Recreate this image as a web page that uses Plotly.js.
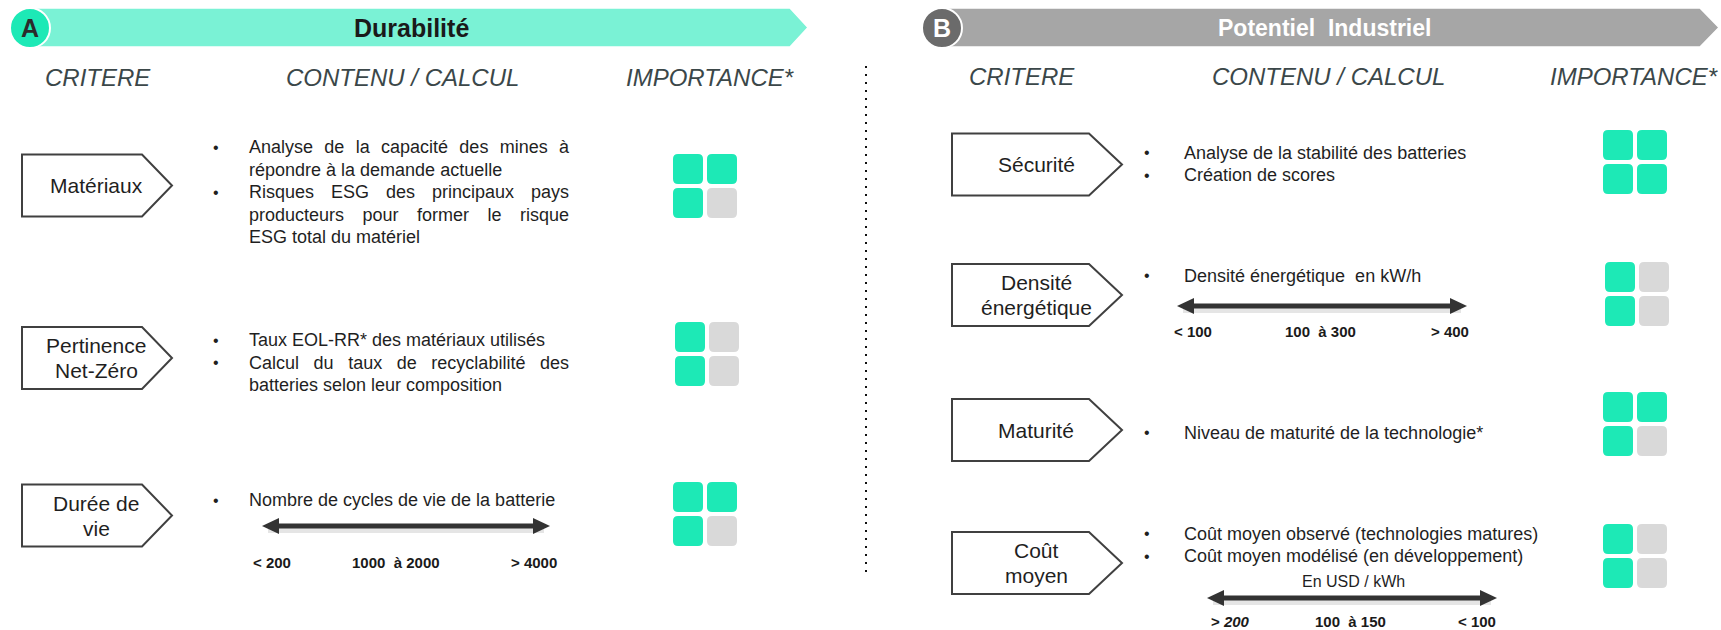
<!DOCTYPE html>
<html><head><meta charset="utf-8">
<script src="https://cdn.plot.ly/plotly-3.0.1.min.js"></script>
<style>html,body{margin:0;padding:0;background:#fff;}#chart{width:1721px;height:630px;}</style>
</head><body><div id="chart"></div>
<script>
// ---------------- DATA ----------------
const sectionTitles = ['Durabilité', 'Potentiel  Industriel'];
const sectionLetters = ['A', 'B'];
const columnHeaders = ['CRITERE', 'CONTENU / CALCUL', 'IMPORTANCE*'];

const leftCriteria = [['Matériaux'], ['Pertinence', 'Net-Zéro'], ['Durée de', 'vie']];
const leftContent = [
  [['Analyse de la capacité des mines à', 'répondre à la demande actuelle'],
   ['Risques ESG des principaux pays', 'producteurs pour former le risque', 'ESG total du matériel']],
  [['Taux EOL-RR* des matériaux utilisés'],
   ['Calcul du taux de recyclabilité des', 'batteries selon leur composition']],
  [['Nombre de cycles de vie de la batterie']]
];
const leftImportance = [3, 2, 3];

const rightCriteria = [['Sécurité'], ['Densité', 'énergétique'], ['Maturité'], ['Coût', 'moyen']];
const rightContent = [
  [['Analyse de la stabilité des batteries'], ['Création de scores']],
  [['Densité énergétique  en kW/h']],
  [['Niveau de maturité de la technologie*']],
  [['Coût moyen observé (technologies matures)'], ['Coût moyen modélisé (en développement)']]
];
const rightImportance = [4, 2, 3, 2];

const lifeScale = ['< 200', '1000  à 2000', '> 4000'];
const densityScale = ['< 100', '100  à 300', '> 400'];
const costScale = ['> <i>200</i>', '100  à 150', '< 100'];
const costUnit = 'En USD / kWh';

// ---------------- LAYOUT CONFIG (positions / styles) ----------------
const FONT = 'Liberation Sans, Arial, sans-serif';
const GREEN = '#1DE9B6', GREY = '#D9D9D9', TXT = '#1f1f1f', HDR = '#3B4749';
const shapes = [], ann = [];
const cv = document.createElement('canvas').getContext('2d');
function measure(t, size) { cv.font = size + 'px "Liberation Sans"'; return cv.measureText(t).width; }
function txt(x, y, t, o) {
  o = o || {};
  ann.push({x: x, y: y, xref: 'x', yref: 'y', text: t, showarrow: false,
    xanchor: o.xa || 'center', yanchor: 'middle',
    font: {family: FONT, size: o.size || 18, color: o.color || TXT}});
}

const sections = [
  {cx: 30, x1: 790, tip: 808, circ: GREEN, band: '#7AF2D5', letterCol: '#2b2b2b', titleCol: '#1a1a1a', titleX: 411, tsize: 25},
  {cx: 942, x1: 1700, tip: 1719, circ: '#6B6B6B', band: '#A6A6A6', letterCol: '#ffffff', titleCol: '#ffffff', titleX: 1324, tsize: 23}
];
sections.forEach((s, i) => {
  shapes.push({type: 'path', xref: 'x', yref: 'y',
    path: `M${s.cx},8 L${s.x1},8 L${s.tip},27.5 L${s.x1},47 L${s.cx},47 Z`,
    fillcolor: s.band, line: {color: '#ffffff', width: 1.5}});
  shapes.push({type: 'circle', xref: 'x', yref: 'y', x0: s.cx - 20, x1: s.cx + 20, y0: 8, y1: 48,
    fillcolor: s.circ, line: {color: '#ffffff', width: 2}});
  ann.push({x: s.cx, y: 28, xref: 'x', yref: 'y', text: '<b>' + sectionLetters[i] + '</b>', showarrow: false,
    font: {family: FONT, size: 25, color: s.letterCol}});
  ann.push({x: s.titleX, y: 28, xref: 'x', yref: 'y', text: '<b>' + sectionTitles[i] + '</b>', showarrow: false,
    font: {family: FONT, size: s.tsize, color: s.titleCol}});
});

const headerX = [[98, 402, 710], [1022, 1328, 1634]];
const headerY = [77, 76];
headerX.forEach((xs, k) => xs.forEach((x, j) =>
  txt(x, headerY[k], '<i>' + columnHeaders[j] + '</i>', {size: 24, color: HDR})));

// divider
shapes.push({type: 'line', xref: 'x', yref: 'y', x0: 866, x1: 866, y0: 66, y1: 572,
  line: {color: '#111', width: 2, dash: '2px,6px'}});

function criterionBox(x0, x1, tipDepth, yc, lines) {
  const y0 = yc - 31, y1 = yc + 31, xr = x1 - tipDepth;
  shapes.push({type: 'path', xref: 'x', yref: 'y',
    path: `M${x0},${y0} L${xr},${y0} L${x1},${yc} L${xr},${y1} L${x0},${y1} Z`,
    fillcolor: '#ffffff', line: {color: '#404040', width: 2}});
  const cx = (x0 + x1) / 2 - 1;
  lines.forEach((l, i) => txt(cx, yc + (i - (lines.length - 1) / 2) * 25, l, {size: 21}));
}

function content(bx, tx, y0, paras, justifyW) {
  let y = y0;
  paras.forEach(p => {
    txt(bx, y, '•', {size: 16});
    p.forEach((line, li) => {
      let t = line;
      if (justifyW && li < p.length - 1) {
        const n = (line.match(/ /g) || []).length;
        const ws = Math.max(0, (justifyW - measure(line, 18)) / n);
        t = `<span style="word-spacing:${ws.toFixed(2)}px">${line}</span>`;
      }
      txt(tx, y, t, {xa: 'left'});
      y += 22.5;
    });
  });
}

function importance(x0, y0, n) {
  const s = 30, g = 4, r = 5;
  const cells = [[0, 0], [0, 1], [1, 0], [1, 1]]; // fill order: TL, BL, TR, BR
  cells.forEach((c, i) => {
    const x = x0 + c[0] * (s + g), y = y0 + c[1] * (s + g);
    shapes.push({type: 'path', xref: 'x', yref: 'y', line: {width: 0},
      fillcolor: i < n ? GREEN : GREY,
      path: `M${x + r},${y} L${x + s - r},${y} Q${x + s},${y} ${x + s},${y + r} L${x + s},${y + s - r} Q${x + s},${y + s} ${x + s - r},${y + s} L${x + r},${y + s} Q${x},${y + s} ${x},${y + s - r} L${x},${y + r} Q${x},${y} ${x + r},${y} Z`});
  });
}

function scaleArrow(xa, xb, y, labels, ly, lx) {
  const h = 17, hw = 8;
  shapes.push({type: 'line', xref: 'x', yref: 'y', x0: xa + 6, x1: xb - 6, y0: y + 3, y1: y + 3,
    line: {color: 'rgba(0,0,0,0.10)', width: 8}});
  shapes.push({type: 'line', xref: 'x', yref: 'y', x0: xa + h - 2, x1: xb - h + 2, y0: y, y1: y,
    line: {color: '#333333', width: 5}});
  shapes.push({type: 'path', xref: 'x', yref: 'y', line: {width: 0}, fillcolor: '#333333',
    path: `M${xa},${y} L${xa + h},${y - hw} L${xa + h},${y + hw} Z`});
  shapes.push({type: 'path', xref: 'x', yref: 'y', line: {width: 0}, fillcolor: '#333333',
    path: `M${xb},${y} L${xb - h},${y - hw} L${xb - h},${y + hw} Z`});
  txt(lx[0], ly, '<b>' + labels[0] + '</b>', {size: 15, xa: 'left', color: '#1a1a1a'});
  txt(lx[1], ly, '<b>' + labels[1] + '</b>', {size: 15, color: '#1a1a1a'});
  txt(lx[2], ly, '<b>' + labels[2] + '</b>', {size: 15, xa: 'right', color: '#1a1a1a'});
}

// left column rows
const leftRows = [
  {yc: 185.5, ty: 147, sq: [673, 154]},
  {yc: 358, ty: 340, sq: [675, 322]},
  {yc: 515.5, ty: 500, sq: [673, 482]}
];
leftRows.forEach((r, i) => {
  criterionBox(22, 172, 30, r.yc, leftCriteria[i]);
  content(216, 247, r.ty, leftContent[i], 320);
  importance(r.sq[0], r.sq[1], leftImportance[i]);
});
scaleArrow(262, 550, 526, lifeScale, 562, [251, 396, 559]);

// right column rows
const rightRows = [
  {yc: 164.5, ty: 152.5, sq: [1603, 130]},
  {yc: 295, ty: 275.5, sq: [1605, 262]},
  {yc: 430, ty: 432.5, sq: [1603, 392]},
  {yc: 563, ty: 533.5, sq: [1603, 524]}
];
rightRows.forEach((r, i) => {
  criterionBox(952, 1122, 33, r.yc, rightCriteria[i]);
  content(1147, 1182, r.ty, rightContent[i], null);
  importance(r.sq[0], r.sq[1], rightImportance[i]);
});
scaleArrow(1177, 1467, 306, densityScale, 331, [1172, 1320, 1471]);
txt(1353, 581, costUnit, {size: 16});
scaleArrow(1207, 1497, 598, costScale, 621, [1209, 1350, 1498]);

const layout = {
  width: 1721, height: 630, margin: {l: 0, r: 0, t: 0, b: 0},
  paper_bgcolor: '#ffffff', plot_bgcolor: '#ffffff', showlegend: false,
  xaxis: {range: [0, 1721], visible: false, fixedrange: true},
  yaxis: {range: [630, 0], visible: false, fixedrange: true},
  shapes: shapes, annotations: ann
};
Plotly.newPlot('chart', [], layout, {displayModeBar: false, staticPlot: true});
</script></body></html>
